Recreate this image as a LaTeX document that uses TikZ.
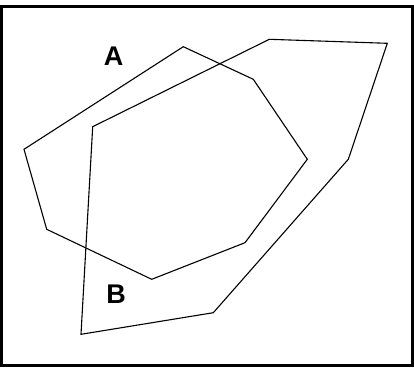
\documentclass[tikz,border=0pt]{standalone}
\usepackage{fontspec}
\setsansfont{Liberation Sans}
\usetikzlibrary{positioning}
\tikzset{edge/.style = {black, line width=1.1pt, line join=miter}}
\tikzset{lbl/.style = {inner sep=0, font=\sffamily\bfseries\fontsize{27}{27}\selectfont}}

\begin{document}
\begin{tikzpicture}[x=1pt, y=-1pt]
    \useasboundingbox (0,0) rectangle (414,367);
    \draw[line width=3pt] (1.5,6.5) rectangle (412.5,365.5); % frame

    % polygon A
    \coordinate (a1) at (183.3,46.7);
    \coordinate (a2) at (253.3,79.3);
    \coordinate (a3) at (307.3,159.3);
    \coordinate (a4) at (245,242.7);
    \coordinate (a5) at (151.7,279.3);
    \coordinate (a6) at (46.7,229.3);
    \coordinate (a7) at (24,149.3);

    % polygon B
    \coordinate (b1) at (269.3,39.3);
    \coordinate (b2) at (387.3,43.3);
    \coordinate (b3) at (348.3,159.3);
    \coordinate (b4) at (213.3,312.7);
    \coordinate (b5) at (81,334.3);
    \coordinate (b6) at (92.7,126.7);

    \draw[edge] (a1) -- (a2) -- (a3) -- (a4) -- (a5) -- (a6) -- (a7) -- cycle;
    \draw[edge] (b1) -- (b2) -- (b3) -- (b4) -- (b5) -- (b6) -- cycle;

    \node[lbl] (la) at (113.7,56) {A};
    \node[lbl] (lb) at (116,294) {B};
  \end{tikzpicture}
\end{document}
